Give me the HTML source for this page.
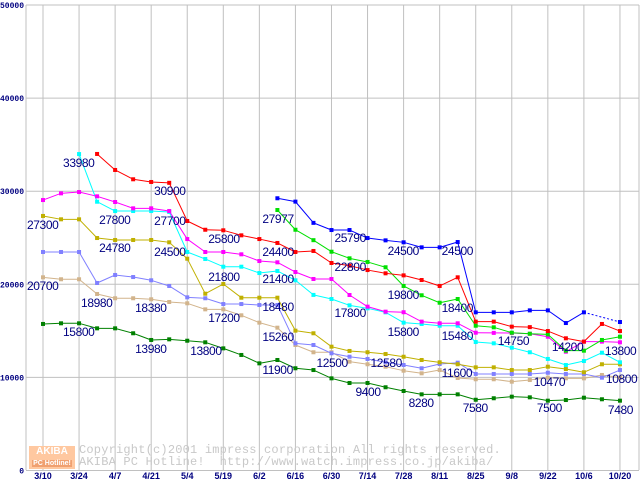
<!DOCTYPE html>
<html><head><meta charset="utf-8"><style>
html,body{margin:0;padding:0;background:#fff;}
#wrap{position:relative;width:640px;height:480px;overflow:hidden;background:#fff;font-family:"Liberation Sans",sans-serif;}
svg{position:absolute;left:0;top:0;}
.lbl{position:absolute;font-size:12px;letter-spacing:-0.4px;color:#000080;line-height:12px;white-space:nowrap;}
</style></head><body>
<div id="wrap">
<svg id="chart" width="640" height="480"></svg>
<div style="position:absolute;left:29px;top:446px;width:46px;height:23px;background:#ffc8a0;color:#fff;font:bold 10px 'Liberation Sans',sans-serif;text-align:center;line-height:11px;">AKIBA<br><span style="font-size:7px;background:#f0a070;padding:0 1px">PC Hotline!</span></div>
<div style="position:absolute;left:79px;top:445px;font:12px 'Liberation Mono',monospace;letter-spacing:0.2px;color:#c8c8c8;line-height:11.5px;white-space:pre;">Copyright(c)2001 impress corporation All rights reserved.
AKIBA PC Hotline!  http://www.watch.impress.co.jp/akiba/</div>
</div>
<script>
const dates=["3/10","3/24","4/7","4/21","5/4","5/19","6/2","6/16","6/30","7/14","7/28","8/11","8/25","9/8","9/22","10/6","10/20"];
const yTicks=[0,10000,20000,30000,40000,50000];
const N=null;
const sRed=[N,N,N,34000,32280,31280,30990,30900,26800,25860,25800,25260,24860,24440,23470,23580,22290,22000,21530,21180,20960,20460,19820,20750,15990,15990,15450,15400,14980,14200,13840,15740,14980];
const sBlue=[N,N,N,N,N,N,N,N,N,N,N,N,N,29240,28880,26600,25830,25830,24970,24720,24510,23970,23970,24540,16990,16990,16990,17200,17200,15840,16990,N,15950];
const sGreen=[N,N,N,N,N,N,N,N,N,N,N,N,N,27980,25860,24740,23500,22790,22400,21830,19820,18820,18020,18420,15550,15380,14800,14690,14620,12870,12870,14020,14370];
const sMagenta=[29050,29770,29910,29450,28840,28160,28160,27870,24860,23470,23470,23220,22500,22360,21320,20570,20570,18850,17600,17060,17000,15990,15810,15810,14800,14780,14770,14690,14370,12760,13840,13840,13770];
const sCyan=[N,N,33990,28870,27870,27870,27870,27770,23470,22720,21890,21890,21210,21430,20430,18860,18420,17740,17420,16990,15880,15740,15550,15550,13800,13660,13190,12700,11980,11330,11760,12650,11620];
const sOlive=[27340,26980,26980,24970,24760,24760,24760,24510,22750,18990,20030,18560,18560,18560,15020,14740,13300,12840,12700,12510,12220,11870,11620,11410,11080,11080,10790,10790,11150,10900,10550,11410,11410];
const sLav=[23470,23470,23470,20140,21000,20780,20430,19820,18600,18500,17880,17880,17780,17780,13660,13480,12590,12220,11980,11620,11330,10980,11440,11580,10370,10370,10370,10370,10500,10370,10370,9970,10790];
const sTan=[20750,20540,20540,18960,18500,18500,18390,18100,17960,17310,17310,16670,15880,15340,13480,12700,12700,11690,11410,11150,10720,10440,10790,9940,9800,9800,9540,9720,9970,9900,9900,10260,9970];
const sDkGreen=[15740,15810,15810,15270,15270,14740,14020,14090,13940,13770,13120,12410,11510,11870,10980,10790,9900,9400,9400,8940,8540,8180,8180,8180,7600,7760,7930,7860,7500,7570,7820,7650,7500];
const seriesList=[[sTan,"#d2b48c","tan"],[sLav,"#8080ff","lavender"],[sOlive,"#c0b000","olive"],[sDkGreen,"#008000","dark-green"],[sCyan,"#00ffff","cyan"],[sMagenta,"#ff00ff","magenta"],[sGreen,"#00e000","green"],[sRed,"#ff0000","red"],[sBlue,"#0000ff","blue"]];
const labelTexts=["33980","27300","27800","30900","27700","25800","27977","24400","24780","24500","21800","21400","20700","18980","18380","17200","18480","15800","13980","13800","11900","15260","25790","22800","24500","24500","19800","18400","17800","15800","15480","12500","12580","11600","9400","8280","7580","14750","10470","7500","14200","13800","10800","7480"];
const labelIdx=[2,0,3,6,6,9,12,12,3,6,9,12,0,2,5,9,12,1,5,8,12,12,16,16,19,22,19,22,16,19,22,15,18,22,17,20,23,25,27,28,29,31,31,31];
const labelVal=[33980,27300,27800,30900,27700,25800,27977,24400,24780,24500,21800,21400,20700,18980,18380,17200,18480,15800,13980,13800,11900,15260,25790,22800,24500,24500,19800,18400,17800,15800,15480,12500,12580,11600,9400,8280,7580,14750,10470,7500,14200,13800,10800,7480];
const labelDx=[-16,-16,2,3,3,3,3,3,2,3,3,3,-16,2,2,3,3,2,2,3,3,3,3,3,2,2,2,2,3,2,2,3,3,2,6,5,5,4,4,-11,-14,3,4,6];
const labelDy=[3,3,2,2,2,3,3,3,2,4,3,2,2,3,3,2,3,3,3,3,4,3,2,3,3,3,3,3,2,3,4,3,4,4,3,4,2,2,3,1,3,3,3,3];

const X0=43,DX=18.03,Y0=470.5,SY=0.00931;
const xS=i=>X0+DX*i;
const yS=v=>Y0-v*SY;
const NS="http://www.w3.org/2000/svg";
const svg=document.getElementById('chart');
function mk(t,a){const e=document.createElementNS(NS,t);for(const k in a)e.setAttribute(k,a[k]);svg.appendChild(e);return e;}
yTicks.forEach(v=>{
  const g=mk('line',{x1:26,x2:639,y1:yS(v),y2:yS(v),stroke:'#c0c0c0','stroke-width':1});
  
  
  const t=mk('text',{x:24,y:yS(v)+3,'text-anchor':'end','font-size':8,'font-weight':'bold','font-family':'Liberation Mono, monospace',fill:'#000080'});
  t.textContent=String(v);
  
  
});
dates.forEach((d,k)=>{
  const x=xS(k*2);
  const g=mk('line',{x1:x,x2:x,y1:5,y2:470,stroke:'#c0c0c0','stroke-width':1});
  
  
  const t=mk('text',{x:x,y:479,'text-anchor':'middle','font-size':9,'font-weight':'bold','font-family':'Liberation Sans, sans-serif',fill:'#000080'});
  t.textContent=d;
  
  
});
const ax=mk('line',{x1:26,x2:26,y1:5,y2:470,stroke:'#c0c0c0'});


const ax2=mk('line',{x1:639,x2:639,y1:5,y2:470,stroke:'#c0c0c0'});


seriesList.forEach(([arr,col,nm])=>{
  let prev=-1;
  for(let i=0;i<arr.length;i++){
    if(arr[i]==null)continue;
    if(prev>=0){
      const a={x1:xS(prev),y1:yS(arr[prev]),x2:xS(i),y2:yS(arr[i]),stroke:col,'stroke-width':1};
      if(i-prev>1)a['stroke-dasharray']='2,2';
      const l=mk('line',a);
      
      
    }
    prev=i;
  }
  arr.forEach((v,i)=>{
    if(v==null)return;
    const r=mk('rect',{x:xS(i)-2,y:yS(v)-2,width:4,height:4,fill:col});
    
    
  });
});
const wrap=document.getElementById('wrap');
labelTexts.forEach((s,k)=>{
  const d=document.createElement('div');
  d.className='lbl';
  d.textContent=s;
  d.style.left=(xS(labelIdx[k])+labelDx[k])+'px';
  d.style.top=(yS(labelVal[k])+labelDy[k])+'px';
  
  
  wrap.appendChild(d);
});
</script>
</body></html>
